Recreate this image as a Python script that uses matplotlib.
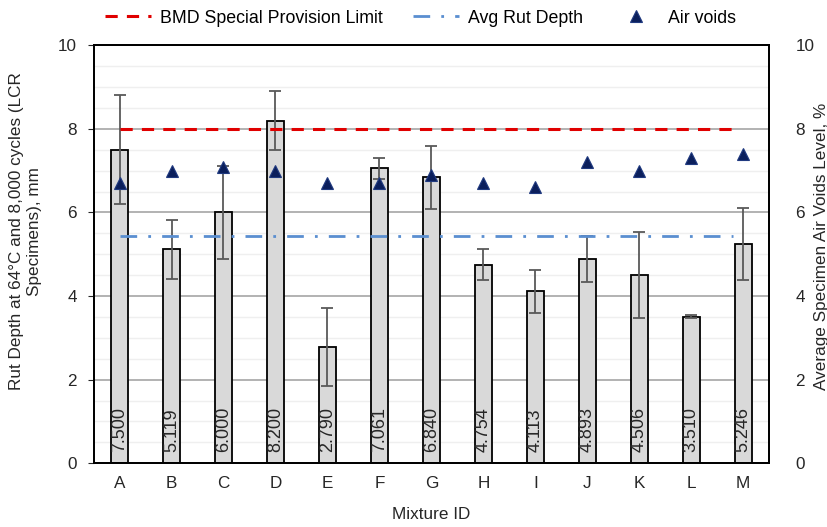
import matplotlib
matplotlib.use("Agg")
import matplotlib.pyplot as plt
from matplotlib.ticker import MultipleLocator
import numpy as np

plt.rcParams["font.family"] = ["Liberation Sans", "DejaVu Sans"]

# data
mixtures = ["A", "B", "C", "D", "E", "F", "G", "H", "I", "J", "K", "L", "M"]
rut_depth = [7.500, 5.119, 6.000, 8.200, 2.790, 7.061, 6.840, 4.754, 4.113, 4.893, 4.506, 3.510, 5.246]
rut_err = [1.30, 0.70, 1.12, 0.70, 0.93, 0.25, 0.76, 0.38, 0.52, 0.55, 1.03, 0.03, 0.86]
air_voids = [6.7, 7.0, 7.1, 7.0, 6.7, 6.7, 6.9, 6.7, 6.6, 7.2, 7.0, 7.3, 7.4]
bmd_limit = 8.0
line_extent = [0, 11.8]

avg_rut = np.mean(rut_depth)
x = np.arange(len(mixtures))

FS = 12.3
TXT = "#262626"

fig = plt.figure(figsize=(8.28, 5.27), dpi=100)
ax = fig.add_axes([0.113, 0.121, 0.816, 0.793])
ax2 = ax.twinx()

# gridlines
ax.yaxis.set_major_locator(MultipleLocator(2))
ax.yaxis.set_minor_locator(MultipleLocator(0.5))
ax.grid(which="minor", axis="y", color="#efefef", lw=1.0, zorder=0)
ax.grid(which="major", axis="y", color="#a6a6a6", lw=1.2, zorder=0)
ax.set_axisbelow(True)

ax.bar(x, rut_depth, width=0.33, color="#d9d9d9", edgecolor="black", lw=1.3, zorder=2)
ax.errorbar(x, rut_depth, yerr=rut_err, fmt="none", ecolor="#595959",
            elinewidth=1.3, capsize=4, capthick=1.3, zorder=3)

for xi, v in zip(x, rut_depth):
    ax.text(xi, 0.26, f"{v:.3f}", rotation=90, ha="center", va="bottom",
            fontsize=13, color=TXT, zorder=4)

l1, = ax.plot(line_extent, [bmd_limit, bmd_limit], color="#e00000", lw=2.2,
              dashes=(4, 3), zorder=3, label="BMD Special Provision Limit")
l2, = ax.plot(line_extent, [avg_rut, avg_rut], color="#5a8ed0", lw=2.0,
              dashes=(6, 4, 1, 4), zorder=3, label="Avg Rut Depth")
l3, = ax2.plot(x, air_voids, ls="none", marker="^", ms=8.5, color="#0b1f5c",
               mec="#203a80", mew=0.8, zorder=5, label="Air voids")

ax.set_xlim(-0.5, len(mixtures) - 0.5)
ax.set_ylim(0, 10)
ax2.set_ylim(0, 10)
ax2.yaxis.set_major_locator(MultipleLocator(2))

ax.set_xticks(x)
ax.set_xticklabels(mixtures)
ax.tick_params(axis="x", length=0, labelsize=FS, pad=9, colors=TXT)
ax.tick_params(axis="y", which="major", length=4, labelsize=FS, pad=8, colors=TXT)
ax.tick_params(axis="y", which="minor", length=0)
ax2.tick_params(axis="y", length=0, labelsize=FS, pad=19, colors=TXT)

for a in (ax, ax2):
    for sp in a.spines.values():
        sp.set_color("black")
        sp.set_linewidth(1.3)

ax.set_xlabel("Mixture ID", fontsize=FS, color=TXT)
ax.xaxis.set_label_coords(0.5, -0.105)
ax.set_ylabel("Rut Depth at 64°C and 8,000 cycles (LCR\nSpecimens), mm",
              fontsize=FS, color=TXT)
ax.yaxis.set_label_coords(-0.077, 0.555)
ax2.set_ylabel("Average Specimen Air Voids Level, %", fontsize=FS, color=TXT,
               rotation=90, va="center")
ax2.yaxis.set_label_coords(1.078, 0.52)

fig.legend(handles=[l1, l2, l3], loc="upper center", bbox_to_anchor=(0.508, 1.012),
           ncol=3, frameon=False, fontsize=12.8, columnspacing=1.7,
           handlelength=2.6, handletextpad=0.5)

fig.savefig("out.png", dpi=100, facecolor="white")
